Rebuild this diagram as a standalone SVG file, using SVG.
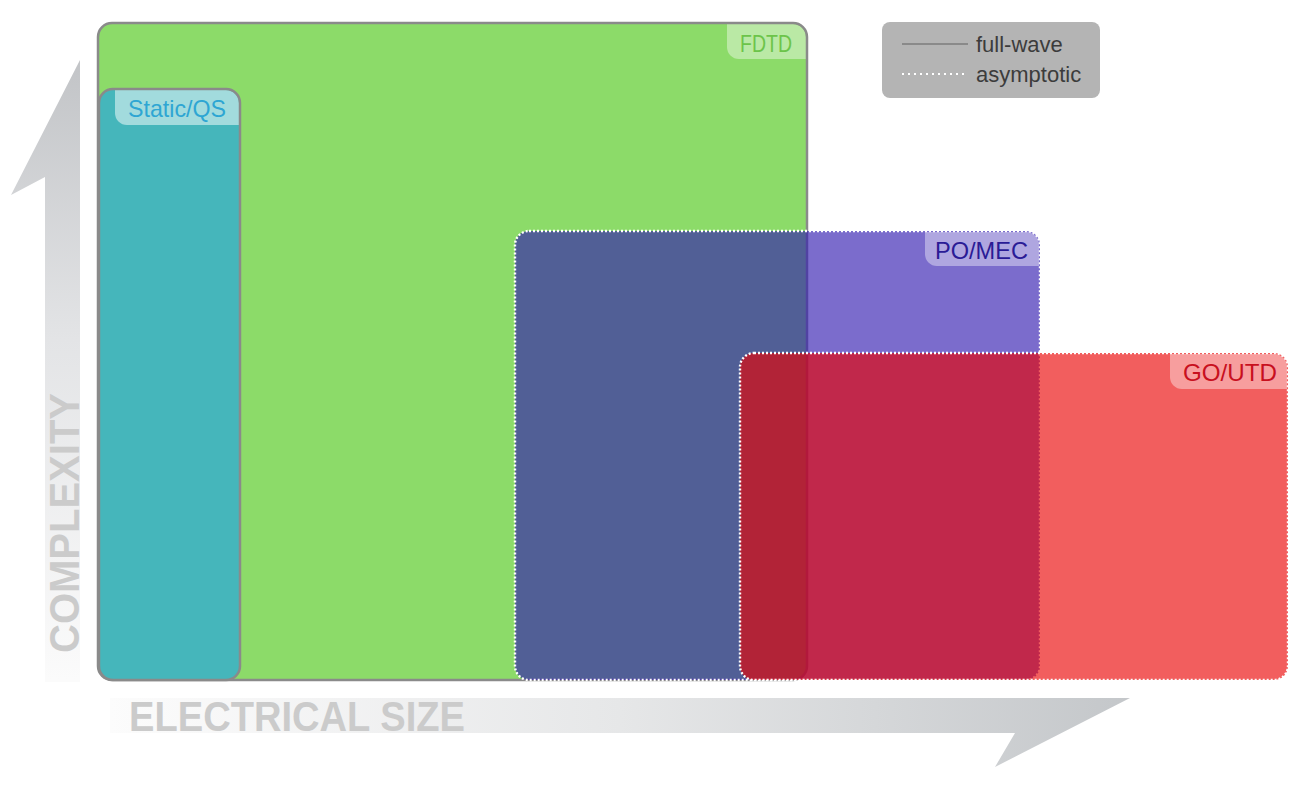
<svg xmlns="http://www.w3.org/2000/svg" width="1300" height="790" viewBox="0 0 1300 790">
<style>
.lbl{font-family:"Liberation Sans",Arial,sans-serif;font-size:22px}
.tl{font-family:"Liberation Sans",Arial,sans-serif;font-size:24px}
.axis{font-family:"Liberation Sans",Arial,sans-serif;font-size:42px;font-weight:bold;fill:#cbcbcb}
.solid{stroke:#8a8a8a;stroke-width:2.5;fill:none}
.dotted{stroke:#ffffff;stroke-width:2.4;stroke-dasharray:2 2;fill:none}
.tab{fill:#ffffff;fill-opacity:0.4}
</style>
<defs>
<linearGradient id="gy" gradientUnits="userSpaceOnUse" x1="0" y1="60" x2="0" y2="680">
<stop offset="0" stop-color="#c2c4c7"/>
<stop offset="0.45" stop-color="#e3e4e6"/>
<stop offset="1" stop-color="#fbfbfb"/>
</linearGradient>
<linearGradient id="gx" gradientUnits="userSpaceOnUse" x1="110" y1="0" x2="1130" y2="0">
<stop offset="0" stop-color="#fcfcfc"/>
<stop offset="0.5" stop-color="#e6e7e8"/>
<stop offset="1" stop-color="#c4c7ca"/>
</linearGradient>
</defs>
<rect width="1300" height="790" fill="#ffffff"/>
<g id="axes">
<path d="M80,60 L80,682 L45,682 L45,177 L11,195 Z" fill="url(#gy)"/>
<path d="M110,698 L1130,698 L995,767 L1015,733 L110,733 Z" fill="url(#gx)"/>
<text class="axis" x="129" y="731" textLength="336" lengthAdjust="spacingAndGlyphs">ELECTRICAL SIZE</text>
<text class="axis" transform="translate(79,653) rotate(-90)" textLength="260" lengthAdjust="spacingAndGlyphs">COMPLEXITY</text>
</g>
<g id="fdtd">
<rect x="98" y="23" width="709" height="657" rx="14" fill="#8cdb69"/>
<path class="tab" d="M727,24 H793 A13,13 0 0 1 806,37 V59 H739 A12,12 0 0 1 727,47 Z"/>
<rect class="solid" x="98" y="23" width="709" height="657" rx="14"/>
<text class="tl" x="740" y="52" textLength="52" lengthAdjust="spacingAndGlyphs" fill="#6cc44a">FDTD</text>
</g>
<g id="static">
<rect x="99" y="89" width="141" height="591" rx="14" fill="#45b6bb"/>
<path d="M115,90 H226 A13,13 0 0 1 239,103 V125 H127 A12,12 0 0 1 115,113 Z" fill="#ffffff" fill-opacity="0.5"/>
<rect class="solid" x="99" y="89" width="141" height="591" rx="14"/>
<text class="tl" x="128" y="117" textLength="98" lengthAdjust="spacingAndGlyphs" fill="#2ea6d3">Static/QS</text>
</g>
<g id="pomec">
<rect x="515" y="231" width="525" height="449" rx="14" fill="#3019af" fill-opacity="0.64"/>
<path class="tab" d="M925,232 H1026 A13,13 0 0 1 1039,245 V266 H937 A12,12 0 0 1 925,254 Z"/>
<rect class="dotted" x="515" y="231" width="525" height="449" rx="14"/>
<text class="tl" x="935" y="259" textLength="93" lengthAdjust="spacingAndGlyphs" fill="#2a1b96">PO/MEC</text>
</g>
<g id="goutd">
<rect x="740" y="353" width="548" height="327" rx="14" fill="#eb0000" fill-opacity="0.63"/>
<path class="tab" d="M1170,354 H1274 A13,13 0 0 1 1287,367 V389 H1182 A12,12 0 0 1 1170,377 Z" fill-opacity="0.3"/>
<rect class="dotted" x="740" y="353" width="548" height="327" rx="14"/>
<text class="tl" x="1183" y="381" textLength="94" lengthAdjust="spacingAndGlyphs" fill="#c8101e">GO/UTD</text>
</g>
<g id="legend">
<rect x="882" y="22" width="218" height="76" rx="8" fill="#b4b4b4"/>
<line x1="902" y1="44" x2="968" y2="44" stroke="#8a8a8a" stroke-width="2"/>
<line x1="902" y1="74" x2="968" y2="74" stroke="#ffffff" stroke-width="2" stroke-dasharray="2 4"/>
<text class="lbl" x="976" y="52" fill="#3c3c3c">full-wave</text>
<text class="lbl" x="976" y="82" fill="#3c3c3c">asymptotic</text>
</g>
</svg>
